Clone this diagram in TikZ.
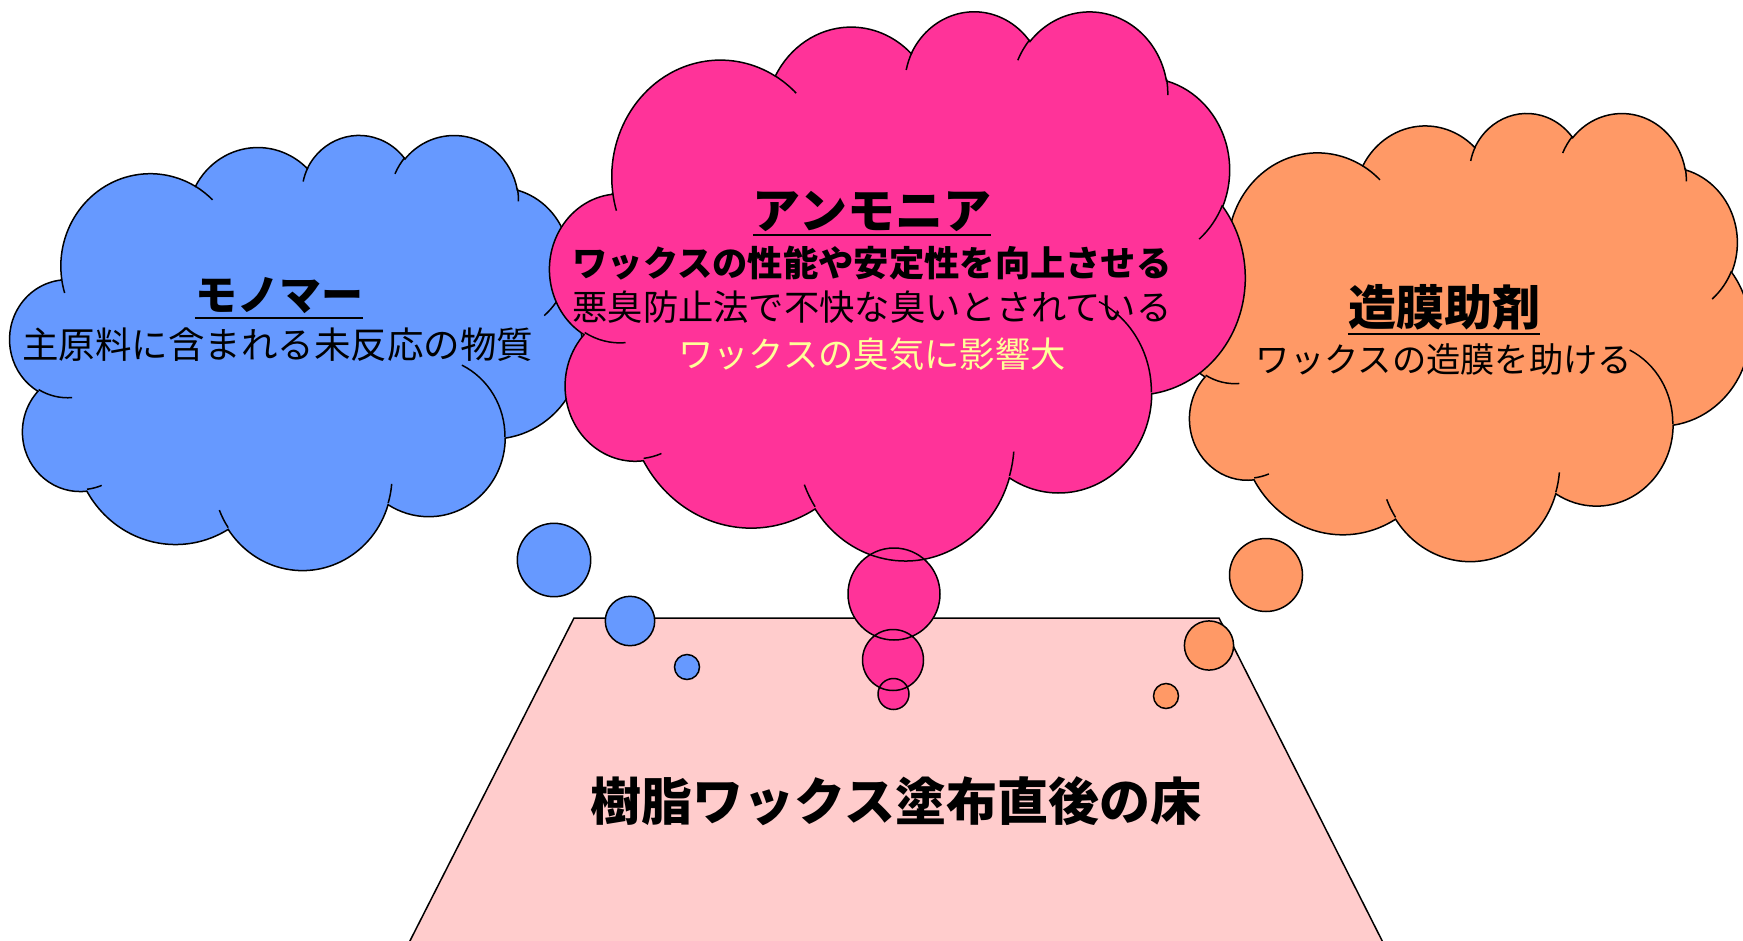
\documentclass[tikz,border=0pt]{standalone}
\usepackage{fontspec}
\newfontfamily\jp{Noto Sans CJK JP}
\definecolor{cblue}{HTML}{6699FF}
\definecolor{cpink}{HTML}{FF3399}
\definecolor{corange}{HTML}{FF9966}
\definecolor{cfloor}{HTML}{FFCCCC}
\definecolor{cyel}{HTML}{FFFF99}
\tikzset{
  oarc/.style n args={4}{x radius={#1}, y radius={#2},
    start angle={atan2((#1)*sin(#3),(#2)*cos(#3))},
    delta angle={mod(atan2((#1)*sin((#3)+(#4)),(#2)*cos((#3)+(#4)))-atan2((#1)*sin(#3),(#2)*cos(#3))+720,360)}},
  outl/.style={draw=black, line width=1.5pt},
  txt/.style={inner sep=0pt, font=\jp\fontsize{#1}{#1}\selectfont},
  btxt/.style={inner sep=0pt, font=\jp\bfseries\fontsize{#1}{#1}\selectfont},
  uline/.style={line width=2pt},
}
\newcommand\cloudmain[1]{\path[#1] (3.9,14.37)
  arc[oarc={6.753}{9.19}{-190.48748}{123.78053}]
  arc[oarc={5.333}{7.267}{-144.10238}{89.94523}]
  arc[oarc={4.365}{5.945}{-145.80792}{99.72302}]
  arc[oarc={4.857}{6.595}{-130.98607}{117.24173}]
  arc[oarc={5.333}{7.273}{-78.70888}{109.02692}]
  arc[oarc={6.775}{9.22}{-46.26725}{130.269}]
  arc[oarc={5.785}{7.867}{0.62502}{114.03333}]
  arc[oarc={6.752}{9.215}{22.4516}{115.17255}]
  arc[oarc={7.72}{10.543}{66.24263}{75.71102}]
  arc[oarc={4.36}{5.918}{-274.94208}{146.73557}]
  arc[oarc={4.345}{5.945}{-246.8285}{152.51885}]
  -- cycle;}
\newcommand\cloudhints[1]{\path[#1]
  (4.693,26.177) arc[oarc={4.345}{5.945}{86.742}{26.4295}]
  (6.928,34.899) arc[oarc={4.36}{5.918}{73.61047}{11.44747}]
  (16.478,39.09) arc[oarc={6.752}{9.215}{137.62415}{14.0811}]
  (28.827,34.751) arc[oarc={6.752}{9.215}{6.45327}{15.99835}]
  (34.129,22.954) arc[oarc={5.785}{7.867}{-70.29235}{70.91737}]
  (41.798,15.354) arc[oarc={5.333}{7.273}{30.31803}{27.7515}]
  (38.324,5.426) arc[oarc={4.857}{6.595}{-13.74433}{14.8589}]
  (29.078,3.952) arc[oarc={4.857}{6.595}{-149.18145}{18.19537}]
  (22.141,4.72) arc[oarc={4.365}{5.945}{-163.49427}{17.68635}]
  (14.0,5.192) arc[oarc={6.753}{9.19}{-66.70695}{12.31935}]
  (4.127,15.789) arc[oarc={6.753}{9.19}{157.65435}{11.85817}];}
% #1 x0, #2 y0, #3 w, #4 h, #5 colour
\newcommand\cloudfill[5]{%
  \pgfmathsetmacro\cwx{#3/43.2}\pgfmathsetmacro\chy{#4/43.2}%
  \begin{scope}[shift={(#1,#2)},x=\cwx pt,y=-\chy pt]
    \cloudmain{fill=#5}
  \end{scope}}
\newcommand\cloudstroke[4]{%
  \pgfmathsetmacro\cwx{#3/43.2}\pgfmathsetmacro\chy{#4/43.2}%
  \begin{scope}[shift={(#1,#2)},x=\cwx pt,y=-\chy pt]
    \cloudmain{outl}
    \cloudhints{outl}
  \end{scope}}
\begin{document}
\begin{tikzpicture}[x=1pt,y=-1pt]
\useasboundingbox (0,0) rectangle (1743,940);
\clip (0,0) rectangle (1743,940);
\fill[white] (0,0) rectangle (1743,940);
% floor
\coordinate (fl1) at (574,618);
\coordinate (fl2) at (1219,618);
\coordinate (fl3) at (1407,990);
\coordinate (fl4) at (385,990);
\filldraw[fill=cfloor, outl] (fl1) -- (fl2) -- (fl3) -- (fl4) -- cycle;
\node[btxt=51] (floor) at (896,801) {樹脂ワックス塗布直後の床};
% blue
\cloudfill{10}{134}{572}{435}{cblue}
\fill[cblue] (554,560) circle[radius=36.7] (630,621) circle[radius=24.7] (687,667) circle[radius=12.5];
\cloudstroke{10}{134}{572}{435}
\draw[outl] (554,560) circle[radius=36.7] (630,621) circle[radius=24.7] (687,667) circle[radius=12.5];
\node[btxt=42] (bt) at (279,296) {モノマー};
\draw[uline] ([yshift=-4pt]bt.south west) -- ([yshift=-4pt]bt.south east);
\node[txt=36.5] (bb) at (278,345) {主原料に含まれる未反応の物質};
% orange
\cloudfill{1177}{112}{573}{448}{corange}
\fill[corange] (1266,575) circle[radius=36.5] (1209,645.5) circle[radius=24.6] (1166,696) circle[radius=12.5];
\cloudstroke{1177}{112}{573}{448}
\draw[outl] (1266,575) circle[radius=36.5] (1209,645.5) circle[radius=24.6] (1166,696) circle[radius=12.5];
\node[btxt=48] (ot) at (1444,307.5) {造膜助剤};
\draw[uline] ([yshift=-3pt]ot.south west) -- ([yshift=-3pt]ot.south east);
\node[txt=34.3] (ob) at (1444,359) {ワックスの造膜を助ける};
% pink
\cloudfill{550}{10}{695}{549}{cpink}
\fill[cpink] (894,594) circle[radius=46] (893,660) circle[radius=30.5] (893.5,694) circle[radius=15.5];
\cloudstroke{550}{10}{695}{549}
\draw[outl] (894,594) circle[radius=46] (893,660) circle[radius=30.5] (893.5,694) circle[radius=15.5];
\node[btxt=48] (pt) at (872,211) {アンモニア};
\draw[uline] ([yshift=-4pt]pt.south west) -- ([yshift=-4pt]pt.south east);
\node[btxt=35.3] (p1) at (872,263) {ワックスの性能や安定性を向上させる};
\node[txt=35.3] (p2) at (872,307) {悪臭防止法で不快な臭いとされている};
\node[txt=35.3, text=cyel] (p3) at (872,354) {ワックスの臭気に影響大};
\end{tikzpicture}
\end{document}
